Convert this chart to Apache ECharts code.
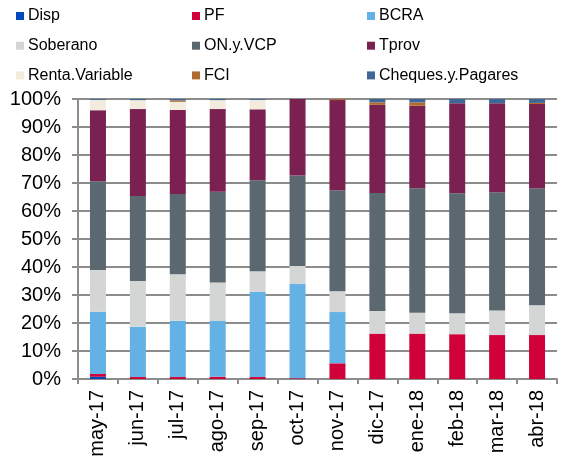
<!DOCTYPE html>
<html>
<head>
<meta charset="utf-8">
<script src="https://cdn.jsdelivr.net/npm/echarts@6/dist/echarts.min.js"></script>
<style>
  html, body { margin: 0; padding: 0; background: #fff; }
  #chart { width: 579px; height: 460px; }
</style>
</head>
<body>
<div id="chart"></div>
<script>
// categorias (meses)
var months = ['may-17', 'jun-17', 'jul-17', 'ago-17', 'sep-17', 'oct-17', 'nov-17', 'dic-17', 'ene-18', 'feb-18', 'mar-18', 'abr-18'];

// composicion de cartera, % del total
var disp     = [0.8, 0, 0, 0, 0, 0, 0, 0, 0, 0, 0, 0];
var pf       = [1.0, 0.7, 0.7, 0.8, 0.7, 0.3, 5.6, 16.2, 16.2, 16.0, 15.7, 15.7];
var bcra     = [22.2, 18.0, 20.1, 19.9, 30.4, 33.6, 18.3, 0, 0, 0, 0, 0];
var soberano = [14.9, 16.3, 16.6, 13.8, 7.4, 6.5, 7.4, 8.1, 7.5, 7.5, 8.8, 10.6];
var onVcp    = [31.7, 30.4, 28.7, 32.4, 32.5, 32.3, 36.1, 42.1, 44.4, 42.8, 42.2, 41.8];
var tprov    = [25.4, 31.0, 30.0, 29.5, 25.3, 27.3, 32.2, 31.5, 29.5, 32.2, 31.8, 30.1];
var rentaVar = [3.7, 3.2, 2.9, 3.2, 3.4, 0, 0, 0, 0, 0, 0, 0];
var fci      = [0, 0, 0.5, 0, 0, 0, 0.4, 0.9, 1.2, 0, 0, 0.4];
var cheques  = [0.3, 0.4, 0.5, 0.4, 0.3, 0, 0, 1.2, 1.2, 1.5, 1.5, 1.4];

var yTicks = [0, 10, 20, 30, 40, 50, 60, 70, 80, 90, 100];

var names  = ['Disp', 'PF', 'BCRA', 'Soberano', 'ON.y.VCP', 'Tprov', 'Renta.Variable', 'FCI', 'Cheques.y.Pagares'];
var values = [disp, pf, bcra, soberano, onVcp, tprov, rentaVar, fci, cheques];
var colors = ['#0047BB', '#D0003A', '#63B1E5', '#D4D5D5', '#5C6870', '#7A2152', '#F3ECDD', '#B06A30', '#3E6696'];

var font = 'Liberation Sans, Arial, sans-serif';

// una leyenda vertical por columna
function legendCol(items, left) {
    return {
        orient: 'vertical',
        left: left,
        top: 8,
        data: items,
        icon: 'rect',
        itemWidth: 8,
        itemHeight: 8,
        itemGap: 13.7,
        padding: 0,
        textStyle: { fontFamily: font, fontSize: 16, color: '#000', lineHeight: 16, padding: [0, 0, 0, -1] },
        selectedMode: false
    };
}

var series = names.map(function (n, i) {
    return {
        name: n,
        type: 'bar',
        stack: 'total',
        barWidth: 16,
        itemStyle: { color: colors[i] },
        data: values[i]
    };
});

var option = {
    animation: false,
    color: colors,
    legend: [
        legendCol(['Disp', 'Soberano', 'Renta.Variable'], 16),
        legendCol(['PF', 'ON.y.VCP', 'FCI'], 192),
        legendCol(['BCRA', 'Tprov', 'Cheques.y.Pagares'], 367)
    ],
    grid: { left: 78, right: 22, top: 99, bottom: 81 },
    xAxis: {
        type: 'category',
        data: months,
        axisLine: { lineStyle: { color: '#8c8c8c', width: 2 } },
        axisTick: { show: true, length: 5, lineStyle: { color: '#8c8c8c', width: 2 } },
        axisLabel: { rotate: 90, fontFamily: font, fontSize: 20, color: '#000', margin: 11 }
    },
    yAxis: {
        type: 'value',
        min: yTicks[0],
        max: yTicks[yTicks.length - 1],
        interval: 10,
        axisLine: { show: true, lineStyle: { color: '#8c8c8c', width: 2 } },
        axisTick: { show: true, length: 6, lineStyle: { color: '#8c8c8c', width: 2 } },
        splitLine: { lineStyle: { color: '#8c8c8c', width: 2 } },
        axisLabel: { formatter: '{value}%', fontFamily: font, fontSize: 20, color: '#000', margin: 17 }
    },
    series: series
};

var myChart = echarts.init(document.getElementById('chart'));
myChart.setOption(option);
</script>
</body>
</html>
